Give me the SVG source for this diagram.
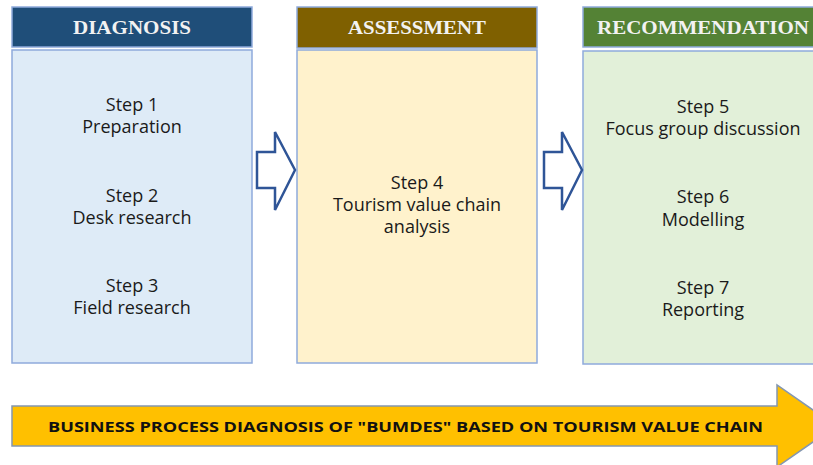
<svg xmlns="http://www.w3.org/2000/svg" width="813" height="465" viewBox="0 0 813 465">
<style>
.hdr{stroke:#8FAADC;stroke-width:1.5}
.body{stroke:#8FAADC;stroke-width:1.5}
.ht{font-family:"Liberation Serif",serif;font-weight:bold;font-size:18px;fill:#F2F2F2;text-anchor:middle}
.bt{font-family:"Open Sans",sans-serif;font-size:18px;fill:#1A1A1A;text-anchor:middle}
.flow{fill:#FFFFFF;stroke:#2F5597;stroke-width:2.5;stroke-linejoin:miter}
</style>
<rect width="813" height="465" fill="#FFFFFF"/>
<g id="diagnosis">
<rect class="hdr" x="12" y="7" width="240" height="40" fill="#1F4E79"/>
<text class="ht" x="132" y="34" textLength="118" lengthAdjust="spacingAndGlyphs">DIAGNOSIS</text>
<rect class="body" x="12" y="50" width="240" height="313" fill="#DEEBF7"/>
<text class="bt" x="132" y="111">Step 1</text>
<text class="bt" x="132" y="133">Preparation</text>
<text class="bt" x="132" y="202">Step 2</text>
<text class="bt" x="132" y="224">Desk research</text>
<text class="bt" x="132" y="292">Step 3</text>
<text class="bt" x="132" y="314">Field research</text>
</g>
<g id="assessment">
<rect class="hdr" x="297" y="7" width="240" height="41" fill="#7F6000"/>
<text class="ht" x="417" y="34" textLength="138" lengthAdjust="spacingAndGlyphs">ASSESSMENT</text>
<rect class="body" x="297" y="50" width="240" height="313" fill="#FFF2CC"/>
<text class="bt" x="417" y="189">Step 4</text>
<text class="bt" x="417" y="211">Tourism value chain</text>
<text class="bt" x="417" y="233">analysis</text>
</g>
<g id="recommendation">
<rect class="hdr" x="583" y="7" width="240" height="40" fill="#548235"/>
<text class="ht" x="703" y="34" textLength="212" lengthAdjust="spacingAndGlyphs">RECOMMENDATION</text>
<rect class="body" x="583" y="51" width="240" height="313" fill="#E2F0D9"/>
<text class="bt" x="703" y="113">Step 5</text>
<text class="bt" x="703" y="135">Focus group discussion</text>
<text class="bt" x="703" y="203">Step 6</text>
<text class="bt" x="703" y="226">Modelling</text>
<text class="bt" x="703" y="294">Step 7</text>
<text class="bt" x="703" y="316">Reporting</text>
</g>
<g id="connectors">
<polygon class="flow" points="257,152 275,152 275,132 295,170 275,210 275,188 257,188"/>
<polygon class="flow" points="544,152 562,152 562,132 582,170 562,210 562,188 544,188"/>
</g>
<g id="banner">
<polygon points="12,406 777,406 777,385 836,426 777,467 777,446 12,446" fill="#FFC000" stroke="#8497B0" stroke-width="1.5"/>
<text x="48" y="432" font-family="'Open Sans',sans-serif" font-weight="bold" font-size="15px" fill="#111111" textLength="715" lengthAdjust="spacingAndGlyphs">BUSINESS PROCESS DIAGNOSIS OF "BUMDES" BASED ON TOURISM VALUE CHAIN</text>
</g>
</svg>
